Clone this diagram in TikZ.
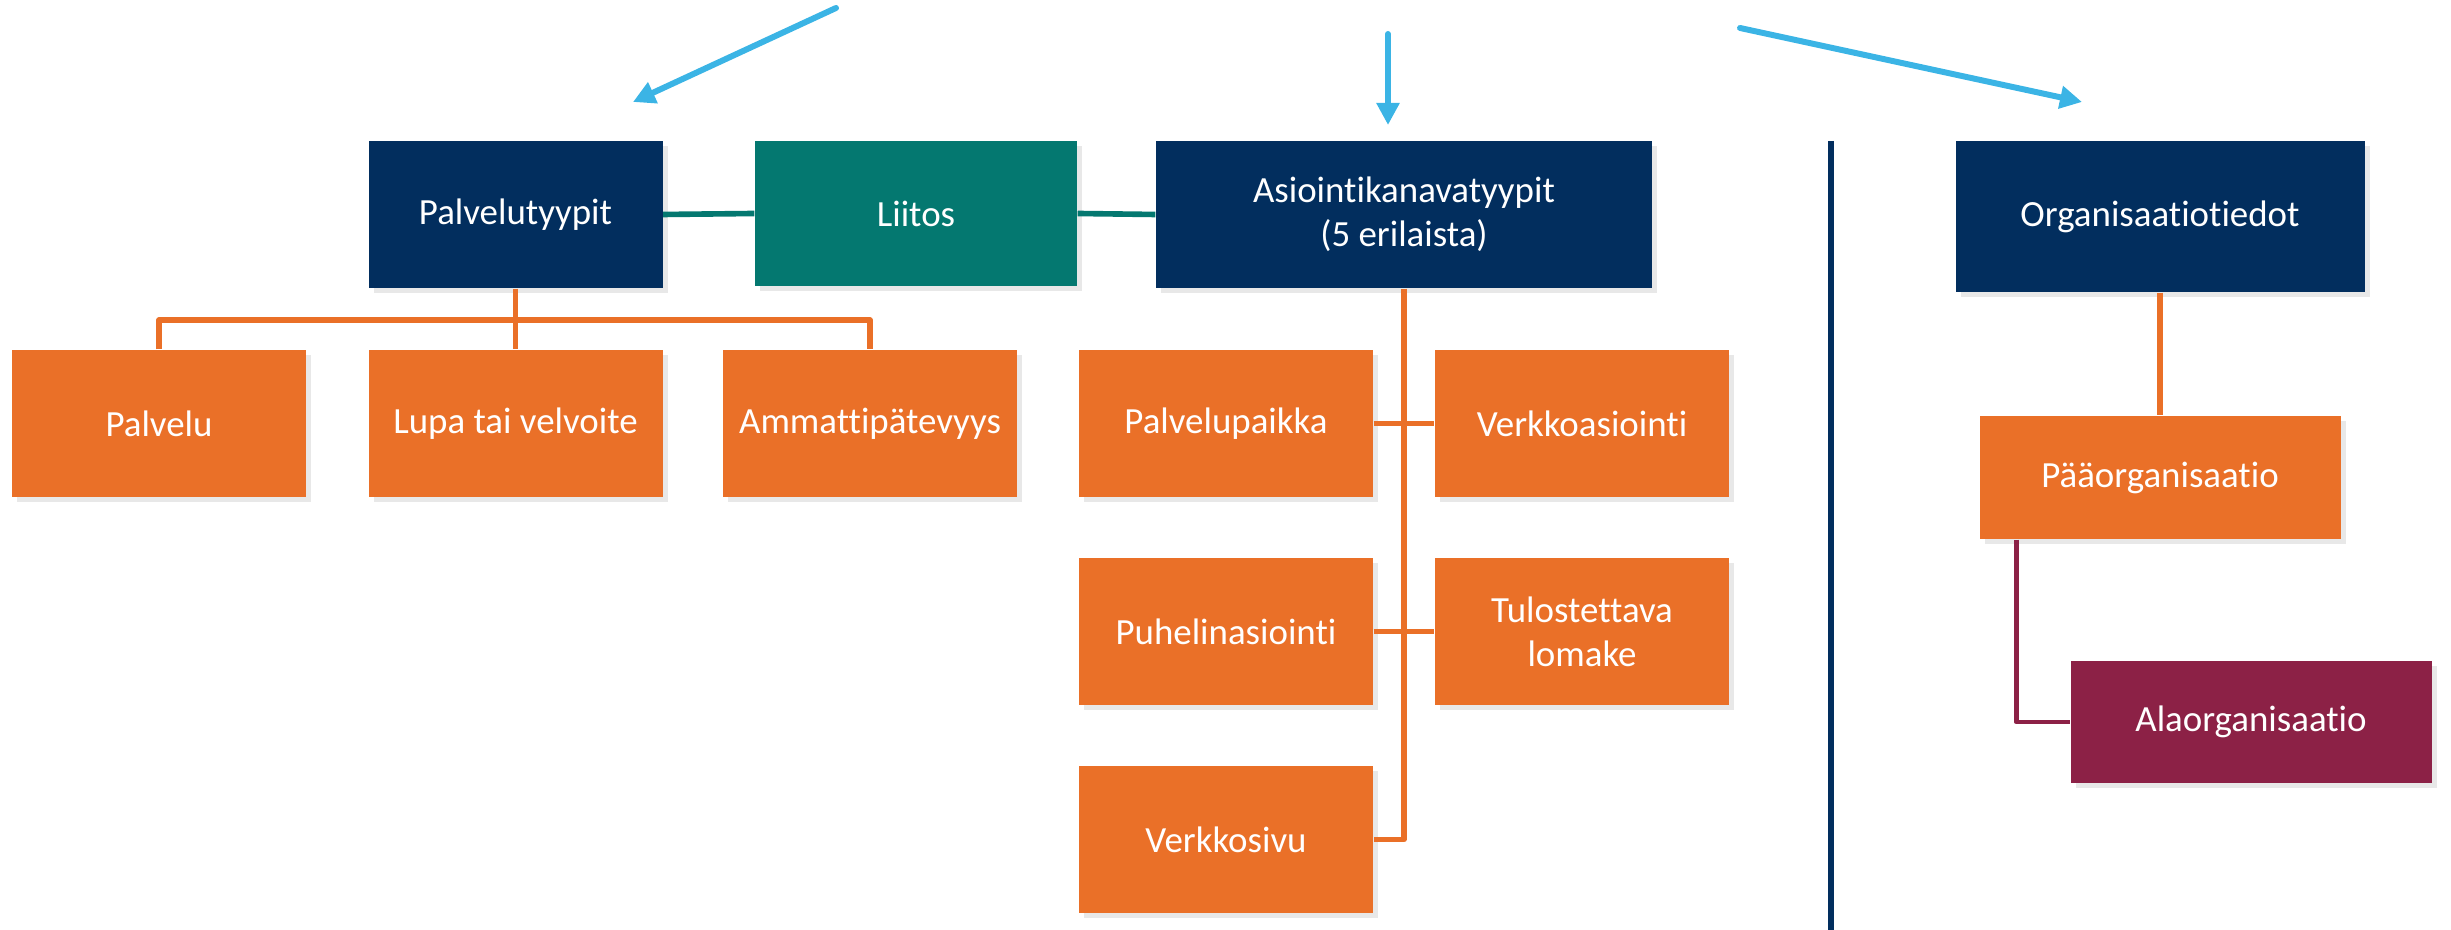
\documentclass[tikz,border=0pt]{standalone}
\usepackage{fontspec}
\setmainfont{Carlito}[RawFeature=-liga]
\usetikzlibrary{arrows.meta,shadows}

\begin{document}
\begin{tikzpicture}[
    x=1cm,
    y=1cm,
    line cap=round,
    line join=round,
    font=\fontsize{10.5}{12.6}\selectfont
]

\definecolor{NavyBlue}{HTML}{022E5E}
\definecolor{LinkTeal}{HTML}{047870}
\definecolor{TypeOrange}{HTML}{EA7028}
\definecolor{SubMaroon}{HTML}{8C2146}
\definecolor{ArrowBlue}{HTML}{3BB4E5}

\tikzset{
    box/.style={
        rectangle,
        draw=none,
        fill=#1,
        text=white,
        align=center,
        inner sep=0pt,
        minimum width=2.94cm,
        minimum height=1.47cm,
        drop shadow={shadow xshift=0.05cm, shadow yshift=-0.05cm, opacity=0.18}
    },
    link/.style={
        draw=#1,
        line width=1.6pt,
        line cap=butt
    },
    pointer/.style={
        draw=ArrowBlue,
        line width=1.7pt,
        -{Triangle[length=0.22cm, width=0.22cm]}
    }
}

\useasboundingbox (0,0) rectangle (24.51,9.30);

% top row
\node[box=NavyBlue] (palvtyyp) at (5.155,7.155) {Palvelutyypit};
\node[box=LinkTeal, minimum width=3.22cm, minimum height=1.45cm] (liitos) at (9.16,7.165) {Liitos};
\node[box=NavyBlue, minimum width=4.96cm] (asiointi) at (14.04,7.155) {Asiointikanavatyypit\\(5 erilaista)};
\node[box=NavyBlue, minimum width=4.09cm, minimum height=1.51cm] (org) at (21.60,7.135) {Organisaatiotiedot};

% service types
\node[box=TypeOrange] (palvelu) at (1.59,5.065) {Palvelu};
\node[box=TypeOrange] (lupa) at (5.155,5.065) {Lupa tai velvoite};
\node[box=TypeOrange] (ammatti) at (8.70,5.065) {Ammattipätevyys};

% channel types
\node[box=TypeOrange] (paikka) at (12.26,5.065) {Palvelupaikka};
\node[box=TypeOrange] (verkkoas) at (15.82,5.065) {Verkkoasiointi};
\node[box=TypeOrange] (puhelin) at (12.26,2.985) {Puhelinasiointi};
\node[box=TypeOrange] (lomake) at (15.82,2.985) {Tulostettava\\lomake};
\node[box=TypeOrange] (verkkosivu) at (12.26,0.905) {Verkkosivu};

% organisations
\node[box=TypeOrange, minimum width=3.61cm, minimum height=1.23cm] (paaorg) at (21.60,4.525) {Pääorganisaatio};
\node[box=SubMaroon, minimum width=3.61cm, minimum height=1.22cm] (alaorg) at (22.51,2.08) {Alaorganisaatio};

\coordinate (bar) at (5.155,6.10);
\coordinate (septop) at (18.31,7.89);
\coordinate (sepbot) at (18.31,0);

\draw[link=LinkTeal] (palvtyyp.east) -- (liitos.west);
\draw[link=LinkTeal] (liitos.east) -- (asiointi.west);

\draw[link=TypeOrange] (palvtyyp.south) -- (lupa.north);
\draw[link=TypeOrange] (palvelu.north) |- (bar) -| (ammatti.north);

\draw[link=TypeOrange] (asiointi.south) |- (verkkosivu.east);
\draw[link=TypeOrange] (paikka.east) -- (verkkoas.west);
\draw[link=TypeOrange] (puhelin.east) -- (lomake.west);

\draw[link=TypeOrange] (org.south) -- (paaorg.north);
\draw[link=SubMaroon, line width=1.3pt] ([xshift=0.375cm]paaorg.south west) |- (alaorg.west);

\draw[draw=NavyBlue, line width=1.9pt, line cap=butt] (septop) -- (sepbot);

% arrows from the heading
\coordinate (leftfrom) at (8.36,9.22);
\coordinate (leftto) at (6.33,8.28);
\coordinate (midfrom) at (13.88,8.96);
\coordinate (midto) at (13.88,8.05);
\coordinate (rightfrom) at (17.40,9.02);
\coordinate (rightto) at (20.82,8.28);

\draw[pointer] (leftfrom) -- (leftto);
\draw[pointer] (midfrom) -- (midto);
\draw[pointer] (rightfrom) -- (rightto);

\end{tikzpicture}
\end{document}
